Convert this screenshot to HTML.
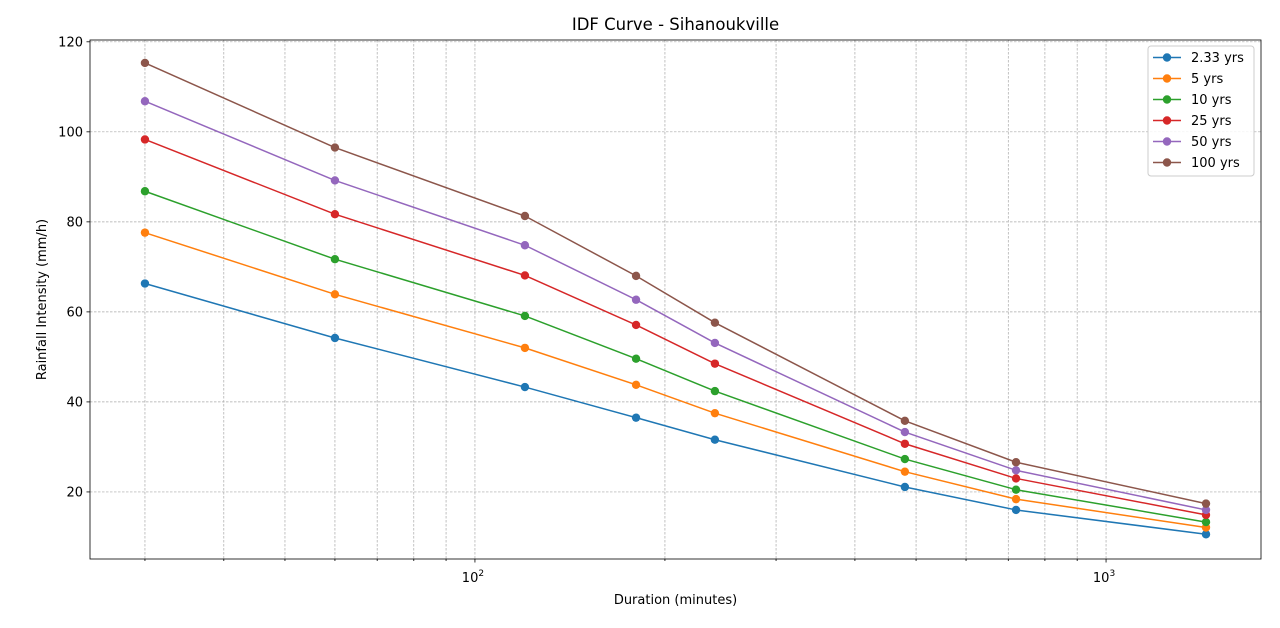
<!DOCTYPE html>
<html><head><meta charset="utf-8">
<style>
body{margin:0;background:#fff;font-family:"DejaVu Sans","Liberation Sans",sans-serif;}
svg text{font-family:"DejaVu Sans","Liberation Sans",sans-serif;}
</style></head>
<body>
<svg id="chart" width="1280" height="624" xmlns="http://www.w3.org/2000/svg">
<rect width="1280" height="624" fill="#fff"/>
<g id="grid"></g>
<g id="axes"></g>
<g id="series"></g>
<g id="legend"></g>
</svg>
<script>
const durations=[30,60,120,180,240,480,720,1440];
const seriesNames=["2.33 yrs","5 yrs","10 yrs","25 yrs","50 yrs","100 yrs"];
const s233=[66.3,54.2,43.3,36.5,31.6,21.1,16.0,10.6];
const s5=[77.6,63.9,52.0,43.8,37.5,24.5,18.4,12.1];
const s10=[86.8,71.7,59.1,49.6,42.4,27.3,20.5,13.3];
const s25=[98.3,81.7,68.1,57.1,48.5,30.7,23.0,14.9];
const s50=[106.8,89.2,74.8,62.7,53.1,33.3,24.8,16.0];
const s100=[115.3,96.5,81.3,68.0,57.6,35.8,26.6,17.4];
const yTicks=[20,40,60,80,100,120];
const colors=["#1f77b4","#ff7f0e","#2ca02c","#d62728","#9467bd","#8c564b"];
const allSeries=[s233,s5,s10,s25,s50,s100];

const L=90,R=1261,T=40,B=559;
const xMin=Math.log10(24.55),xMax=Math.log10(1760);
const yMin=5.1,yMax=120.4;
const X=v=>L+(Math.log10(v)-xMin)/(xMax-xMin)*(R-L);
const Y=v=>B-(v-yMin)/(yMax-yMin)*(B-T);
const NS="http://www.w3.org/2000/svg";
function mk(tag,attrs,parent){const e=document.createElementNS(NS,tag);for(const k in attrs)e.setAttribute(k,attrs[k]);parent.appendChild(e);return e;}
const grid=document.getElementById('grid'),axes=document.getElementById('axes'),ser=document.getElementById('series'),leg=document.getElementById('legend');

for(let d=10;d<=1000;d*=10){for(let m=1;m<10;m++){const v=d*m;if(v<24.55||v>1760)continue;const x=X(v);
const g=mk('line',{x1:x,x2:x,y1:T,y2:B,stroke:'#a8a8a8','stroke-width':0.7,'stroke-dasharray':'2.5,1.5'},grid);


mk('line',{x1:x,x2:x,y1:B,y2:B+(m===1?3.5:2),stroke:'#000','stroke-width':0.8},axes);
if(m===1){const t=mk('text',{x:x-2,y:B+23,'text-anchor':'middle','font-size':13},axes);t.textContent='10';const s=mk('tspan',{dy:-6,'font-size':9},t);s.textContent=String(Math.round(Math.log10(d)));

}}}
yTicks.forEach(v=>{const y=Y(v);
const g=mk('line',{x1:L,x2:R,y1:y,y2:y,stroke:'#a8a8a8','stroke-width':0.7,'stroke-dasharray':'2.5,1.5'},grid);


mk('line',{x1:L-3.5,x2:L,y1:y,y2:y,stroke:'#000','stroke-width':0.8},axes);
const t=mk('text',{x:L-7,y:y+4.5,'text-anchor':'end','font-size':13},axes);t.textContent=v;

});
const fr=mk('rect',{x:L,y:T,width:R-L,height:B-T,fill:'none',stroke:'#000','stroke-width':0.8},axes);


let t=mk('text',{x:(L+R)/2,y:30,'text-anchor':'middle','font-size':16.5},axes);t.textContent='IDF Curve - Sihanoukville';


t=mk('text',{x:(L+R)/2,y:604,'text-anchor':'middle','font-size':13},axes);t.textContent='Duration (minutes)';


t=mk('text',{x:46,y:(T+B)/2,'text-anchor':'middle','font-size':13,transform:`rotate(-90 46 ${(T+B)/2})`},axes);t.textContent='Rainfall Intensity (mm/h)';



allSeries.forEach((s,i)=>{const g=mk('g',{},ser);


const pts=s.map((v,j)=>X(durations[j])+','+Y(v)).join(' ');
mk('polyline',{points:pts,fill:'none',stroke:colors[i],'stroke-width':1.5},g);
s.forEach((v,j)=>{const c=mk('circle',{cx:X(durations[j]),cy:Y(v),r:4.2,fill:colors[i]},g);

});});

const lb=mk('rect',{x:1148,y:46,width:106,height:130,rx:3,fill:'#fff','fill-opacity':0.85,stroke:'#ccc'},leg);


seriesNames.forEach((n,i)=>{const y=57.5+i*21;const g=mk('g',{},leg);


mk('line',{x1:1153,x2:1181,y1:y,y2:y,stroke:colors[i],'stroke-width':1.5},g);
mk('circle',{cx:1167,cy:y,r:4.2,fill:colors[i]},g);
const tt=mk('text',{x:1191,y:y+4.5,'font-size':13},g);tt.textContent=n;});
</script>
</body></html>
